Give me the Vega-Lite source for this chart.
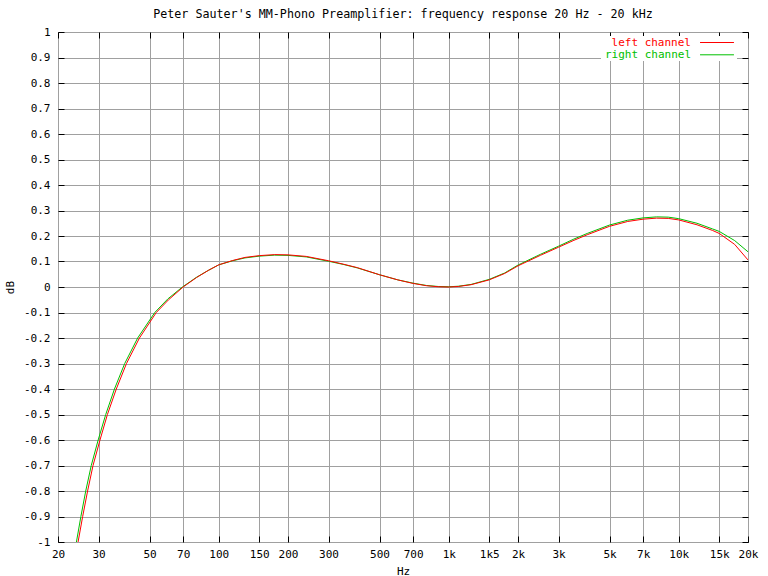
{
  "$schema": "https://vega.github.io/schema/vega-lite/v6.json",
  "width": 690,
  "height": 510,
  "autosize": {"type": "none"},
  "padding": {"left": 58, "top": 32, "right": 20, "bottom": 34},
  "background": "white",
  "title": {"text": "Peter Sauter's MM-Phono Preamplifier: frequency response 20 Hz - 20 kHz", "font": "DejaVu Sans Mono", "fontSize": 11.7, "fontWeight": "normal", "color": "black", "frame": "group", "anchor": "middle", "dx": 0, "offset": 5},
  "config": {
    "view": {"stroke": "black", "strokeWidth": 1},
    "axis": {"labelFont": "DejaVu Sans Mono", "labelFontSize": 11, "labelColor": "black", "titleFont": "DejaVu Sans Mono", "titleFontSize": 11, "titleFontWeight": "normal", "titleColor": "black", "gridColor": "#a0a0a0", "gridOpacity": 1, "gridWidth": 1, "tickColor": "black", "tickWidth": 1, "domain": false, "labelFlush": false, "labelOverlap": false}
  },
  "datasets": {
    "resp": [
      {"f": 23.2, "dB": -1.1, "channel": "right channel"},
      {"f": 24.05, "dB": -1.0, "channel": "right channel"},
      {"f": 25.15, "dB": -0.9, "channel": "right channel"},
      {"f": 26.4, "dB": -0.8, "channel": "right channel"},
      {"f": 27.9, "dB": -0.7, "channel": "right channel"},
      {"f": 29.9, "dB": -0.6, "channel": "right channel"},
      {"f": 32.25, "dB": -0.5, "channel": "right channel"},
      {"f": 35.2, "dB": -0.4, "channel": "right channel"},
      {"f": 39.0, "dB": -0.3, "channel": "right channel"},
      {"f": 44.4, "dB": -0.2, "channel": "right channel"},
      {"f": 52.7, "dB": -0.1, "channel": "right channel"},
      {"f": 60, "dB": -0.047, "channel": "right channel"},
      {"f": 69.5, "dB": 0.0, "channel": "right channel"},
      {"f": 80, "dB": 0.038, "channel": "right channel"},
      {"f": 90, "dB": 0.065, "channel": "right channel"},
      {"f": 100, "dB": 0.087, "channel": "right channel"},
      {"f": 115, "dB": 0.103, "channel": "right channel"},
      {"f": 130, "dB": 0.114, "channel": "right channel"},
      {"f": 150, "dB": 0.121, "channel": "right channel"},
      {"f": 175, "dB": 0.125, "channel": "right channel"},
      {"f": 200, "dB": 0.124, "channel": "right channel"},
      {"f": 240, "dB": 0.118, "channel": "right channel"},
      {"f": 300, "dB": 0.101, "channel": "right channel"},
      {"f": 350, "dB": 0.088, "channel": "right channel"},
      {"f": 400, "dB": 0.075, "channel": "right channel"},
      {"f": 500, "dB": 0.048, "channel": "right channel"},
      {"f": 600, "dB": 0.028, "channel": "right channel"},
      {"f": 700, "dB": 0.015, "channel": "right channel"},
      {"f": 800, "dB": 0.006, "channel": "right channel"},
      {"f": 900, "dB": 0.002, "channel": "right channel"},
      {"f": 1000, "dB": 0.001, "channel": "right channel"},
      {"f": 1100, "dB": 0.003, "channel": "right channel"},
      {"f": 1250, "dB": 0.01, "channel": "right channel"},
      {"f": 1500, "dB": 0.03, "channel": "right channel"},
      {"f": 1750, "dB": 0.055, "channel": "right channel"},
      {"f": 2000, "dB": 0.086, "channel": "right channel"},
      {"f": 2500, "dB": 0.128, "channel": "right channel"},
      {"f": 3000, "dB": 0.16, "channel": "right channel"},
      {"f": 3500, "dB": 0.188, "channel": "right channel"},
      {"f": 4000, "dB": 0.21, "channel": "right channel"},
      {"f": 5000, "dB": 0.243, "channel": "right channel"},
      {"f": 6000, "dB": 0.262, "channel": "right channel"},
      {"f": 7000, "dB": 0.271, "channel": "right channel"},
      {"f": 8000, "dB": 0.275, "channel": "right channel"},
      {"f": 9000, "dB": 0.274, "channel": "right channel"},
      {"f": 10000, "dB": 0.268, "channel": "right channel"},
      {"f": 12000, "dB": 0.25, "channel": "right channel"},
      {"f": 14000, "dB": 0.228, "channel": "right channel"},
      {"f": 15000, "dB": 0.218, "channel": "right channel"},
      {"f": 17500, "dB": 0.182, "channel": "right channel"},
      {"f": 20000, "dB": 0.138, "channel": "right channel"},
      {"f": 23.6, "dB": -1.1, "channel": "left channel"},
      {"f": 24.45, "dB": -1.0, "channel": "left channel"},
      {"f": 25.6, "dB": -0.9, "channel": "left channel"},
      {"f": 26.9, "dB": -0.8, "channel": "left channel"},
      {"f": 28.4, "dB": -0.7, "channel": "left channel"},
      {"f": 30.45, "dB": -0.6, "channel": "left channel"},
      {"f": 32.8, "dB": -0.5, "channel": "left channel"},
      {"f": 35.85, "dB": -0.4, "channel": "left channel"},
      {"f": 39.7, "dB": -0.3, "channel": "left channel"},
      {"f": 45.2, "dB": -0.2, "channel": "left channel"},
      {"f": 53.5, "dB": -0.1, "channel": "left channel"},
      {"f": 60.5, "dB": -0.05, "channel": "left channel"},
      {"f": 70, "dB": 0.0, "channel": "left channel"},
      {"f": 80, "dB": 0.037, "channel": "left channel"},
      {"f": 90, "dB": 0.065, "channel": "left channel"},
      {"f": 100, "dB": 0.087, "channel": "left channel"},
      {"f": 115, "dB": 0.104, "channel": "left channel"},
      {"f": 130, "dB": 0.116, "channel": "left channel"},
      {"f": 150, "dB": 0.123, "channel": "left channel"},
      {"f": 175, "dB": 0.127, "channel": "left channel"},
      {"f": 200, "dB": 0.126, "channel": "left channel"},
      {"f": 240, "dB": 0.12, "channel": "left channel"},
      {"f": 300, "dB": 0.103, "channel": "left channel"},
      {"f": 350, "dB": 0.089, "channel": "left channel"},
      {"f": 400, "dB": 0.076, "channel": "left channel"},
      {"f": 500, "dB": 0.048, "channel": "left channel"},
      {"f": 600, "dB": 0.028, "channel": "left channel"},
      {"f": 700, "dB": 0.014, "channel": "left channel"},
      {"f": 800, "dB": 0.005, "channel": "left channel"},
      {"f": 900, "dB": 0.001, "channel": "left channel"},
      {"f": 1000, "dB": 0.0, "channel": "left channel"},
      {"f": 1100, "dB": 0.002, "channel": "left channel"},
      {"f": 1250, "dB": 0.009, "channel": "left channel"},
      {"f": 1500, "dB": 0.028, "channel": "left channel"},
      {"f": 1750, "dB": 0.053, "channel": "left channel"},
      {"f": 2000, "dB": 0.083, "channel": "left channel"},
      {"f": 2500, "dB": 0.124, "channel": "left channel"},
      {"f": 3000, "dB": 0.156, "channel": "left channel"},
      {"f": 3500, "dB": 0.183, "channel": "left channel"},
      {"f": 4000, "dB": 0.205, "channel": "left channel"},
      {"f": 5000, "dB": 0.238, "channel": "left channel"},
      {"f": 6000, "dB": 0.257, "channel": "left channel"},
      {"f": 7000, "dB": 0.266, "channel": "left channel"},
      {"f": 8000, "dB": 0.27, "channel": "left channel"},
      {"f": 9000, "dB": 0.269, "channel": "left channel"},
      {"f": 10000, "dB": 0.263, "channel": "left channel"},
      {"f": 12000, "dB": 0.244, "channel": "left channel"},
      {"f": 14000, "dB": 0.222, "channel": "left channel"},
      {"f": 15000, "dB": 0.21, "channel": "left channel"},
      {"f": 17500, "dB": 0.167, "channel": "left channel"},
      {"f": 20000, "dB": 0.106, "channel": "left channel"}
    ]
  },
  "data": {"name": "resp"},
  "layer": [
    {
      "mark": {"type": "line", "strokeWidth": 1, "clip": true},
      "encoding": {
        "x": {"field": "f", "type": "quantitative", "scale": {"type": "log", "domain": [20, 20000], "nice": false},
          "axis": {"orient": "bottom", "values": [20, 30, 50, 70, 100, 150, 200, 300, 500, 700, 1000, 1500, 2000, 3000, 5000, 7000, 10000, 15000, 20000],
            "labelExpr": "datum.value >= 1000 ? (datum.value == 1500 ? '1k5' : (datum.value / 1000) + 'k') : '' + datum.value",
            "grid": true, "tickSize": -6, "labelPadding": 12, "labelDx": 3, "title": "Hz", "titlePadding": 6}},
        "y": {"field": "dB", "type": "quantitative", "scale": {"domain": [-1, 1], "nice": false},
          "axis": {"orient": "left", "values": [-1, -0.9, -0.8, -0.7, -0.6, -0.5, -0.4, -0.3, -0.2, -0.1, 0, 0.1, 0.2, 0.3, 0.4, 0.5, 0.6, 0.7, 0.8, 0.9, 1],
            "labelExpr": "'' + round(datum.value * 10) / 10",
            "grid": true, "tickSize": -6, "labelPadding": 14, "title": "dB", "titlePadding": 8}},
        "color": {"field": "channel", "type": "nominal", "sort": ["left channel", "right channel"],
          "scale": {"domain": ["left channel", "right channel"], "range": ["#ff0000", "#00c000"]},
          "legend": {"orient": "none", "legendX": 543, "legendY": 4, "title": null, "padding": 1, "fillColor": "white",
            "symbolType": "M-5,0H5", "symbolSize": 46, "symbolStrokeWidth": 1, "symbolFillColor": "transparent",
            "labelFont": "DejaVu Sans Mono", "labelFontSize": 11, "rowPadding": 0.3,
            "encode": {
              "labels": {"update": {"x": {"value": 89}, "align": {"value": "right"}, "fill": {"scale": "color", "field": "value"}}},
              "symbols": {"update": {"x": {"value": 115}}}
            }}}
      }
    },
    {
      "mark": {"type": "line", "strokeOpacity": 0, "clip": true},
      "encoding": {
        "detail": {"field": "channel"},
        "x": {"field": "f", "type": "quantitative", "scale": {"type": "log", "domain": [20, 20000], "nice": false},
          "axis": {"orient": "top", "values": [20, 30, 50, 70, 100, 150, 200, 300, 500, 700, 1000, 1500, 2000, 3000, 5000, 7000, 10000, 15000, 20000], "labels": false, "grid": false, "tickSize": -6, "title": null}},
        "y": {"field": "dB", "type": "quantitative", "scale": {"domain": [-1, 1], "nice": false},
          "axis": {"orient": "right", "values": [-1, -0.9, -0.8, -0.7, -0.6, -0.5, -0.4, -0.3, -0.2, -0.1, 0, 0.1, 0.2, 0.3, 0.4, 0.5, 0.6, 0.7, 0.8, 0.9, 1], "labels": false, "grid": false, "tickSize": -6, "title": null}}
      }
    }
  ],
  "resolve": {"axis": {"x": "independent", "y": "independent"}}
}
